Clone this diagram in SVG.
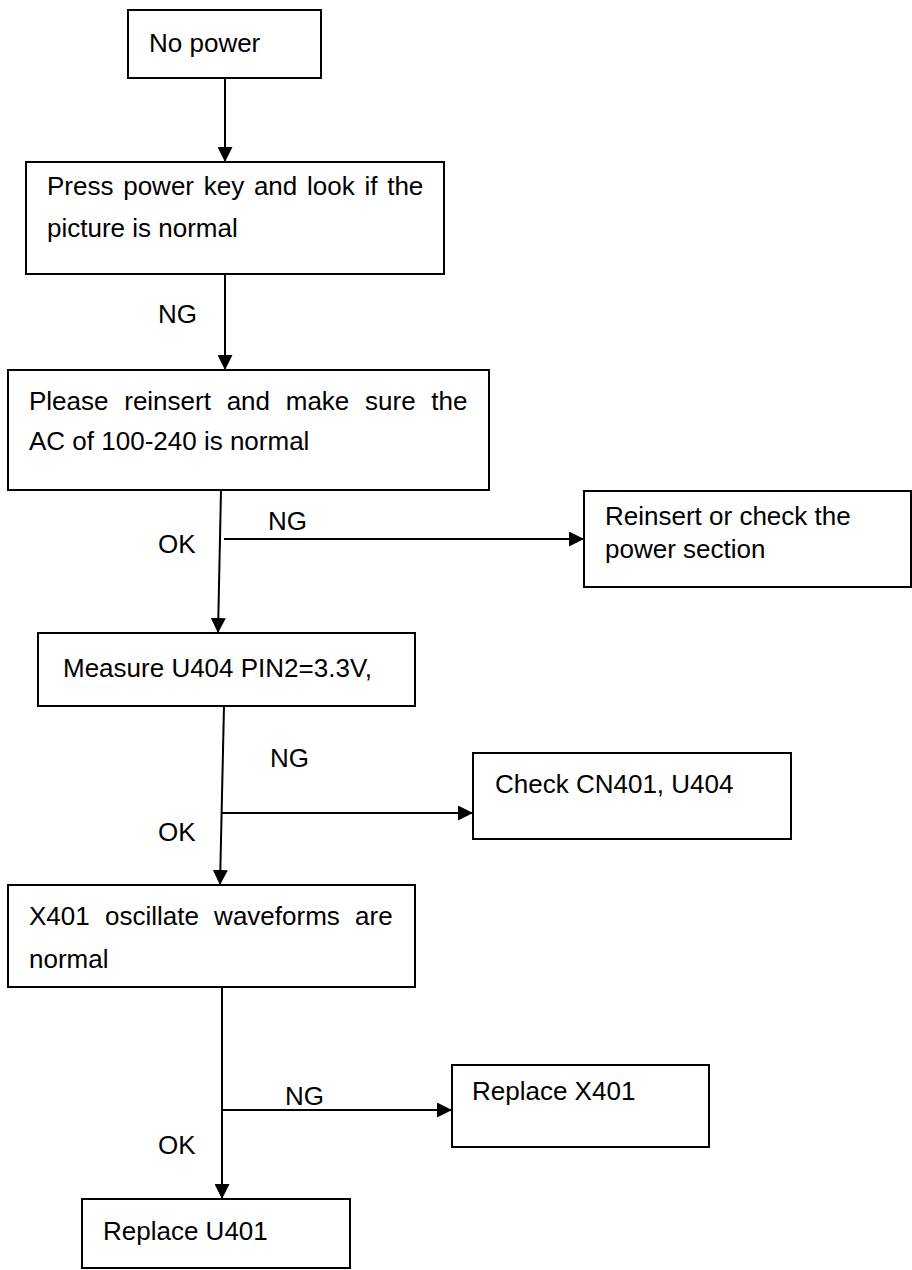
<svg xmlns="http://www.w3.org/2000/svg" width="912" height="1270" viewBox="0 0 912 1270">
  <style>
    .box { fill: #ffffff; stroke: #000000; stroke-width: 2; }
    .t { font-family: "Liberation Sans", Arial, sans-serif; font-size: 26px; fill: #000000; }
    .wire { fill: none; stroke: #000000; stroke-width: 2; }
  </style>
  <defs>
    <marker id="arrow" viewBox="0 0 10 10" refX="10" refY="5" markerUnits="userSpaceOnUse" markerWidth="15" markerHeight="15" orient="auto">
      <path d="M0,0 L10,5 L0,10 z" fill="#000000"/>
    </marker>
  </defs>
  <rect width="912" height="1270" fill="#ffffff"/>

  <g id="connectors">
    <line class="wire" x1="225" y1="78" x2="225" y2="162" marker-end="url(#arrow)"/>
    <line class="wire" x1="225" y1="274" x2="225" y2="370" marker-end="url(#arrow)"/>
    <line class="wire" x1="221" y1="490" x2="218" y2="633" marker-end="url(#arrow)"/>
    <line class="wire" x1="224" y1="539" x2="584" y2="539" marker-end="url(#arrow)"/>
    <line class="wire" x1="224" y1="706" x2="220" y2="885" marker-end="url(#arrow)"/>
    <line class="wire" x1="222" y1="813" x2="473" y2="813" marker-end="url(#arrow)"/>
    <line class="wire" x1="222" y1="987" x2="222" y2="1199" marker-end="url(#arrow)"/>
    <line class="wire" x1="222" y1="1110" x2="452" y2="1110" marker-end="url(#arrow)"/>
    <text class="t" x="158" y="323">NG</text>
    <text class="t" x="268" y="530">NG</text>
    <text class="t" x="158" y="553">OK</text>
    <text class="t" x="270" y="767">NG</text>
    <text class="t" x="158" y="841">OK</text>
    <text class="t" x="285" y="1105">NG</text>
    <text class="t" x="158" y="1154">OK</text>
  </g>

  <g id="no-power">
    <rect class="box" x="128" y="10" width="193" height="68"/>
    <text class="t" x="149" y="52">No power</text>
  </g>

  <g id="press-power-key">
    <rect class="box" x="26" y="162" width="418" height="112"/>
    <text class="t" x="47" y="195" word-spacing="2.5">Press power key and look if the</text>
    <text class="t" x="47" y="237">picture is normal</text>
  </g>

  <g id="check-ac">
    <rect class="box" x="8" y="370" width="481" height="120"/>
    <text class="t" x="29" y="410" word-spacing="8.5">Please reinsert and make sure the</text>
    <text class="t" x="29" y="450">AC of 100-240 is normal</text>
  </g>

  <g id="check-power-section">
    <rect class="box" x="584" y="491" width="327" height="96"/>
    <text class="t" x="605" y="525">Reinsert or check the</text>
    <text class="t" x="605" y="558">power section</text>
  </g>

  <g id="measure-u404">
    <rect class="box" x="38" y="633" width="377" height="73"/>
    <text class="t" x="63" y="677">Measure U404 PIN2=3.3V,</text>
  </g>

  <g id="check-cn401">
    <rect class="box" x="473" y="753" width="318" height="86"/>
    <text class="t" x="495" y="793">Check CN401, U404</text>
  </g>

  <g id="x401-waveforms">
    <rect class="box" x="8" y="885" width="407" height="102"/>
    <text class="t" x="29" y="925" word-spacing="8">X401 oscillate waveforms are</text>
    <text class="t" x="29" y="968">normal</text>
  </g>

  <g id="replace-x401">
    <rect class="box" x="452" y="1065" width="257" height="82"/>
    <text class="t" x="472" y="1100">Replace X401</text>
  </g>

  <g id="replace-u401">
    <rect class="box" x="82" y="1199" width="268" height="69"/>
    <text class="t" x="103" y="1240">Replace U401</text>
  </g>
</svg>
